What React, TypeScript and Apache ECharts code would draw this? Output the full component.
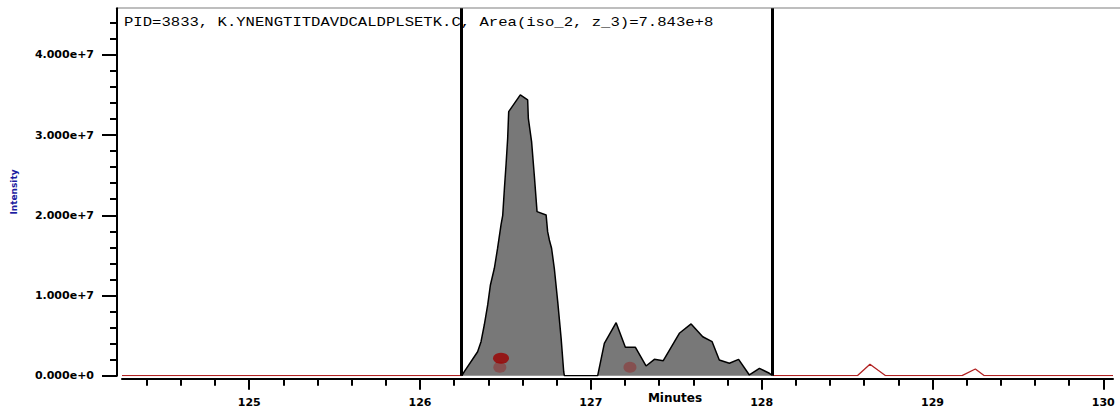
import React, { useEffect, useRef } from "react";
import * as echarts from "echarts";

// ---- axis ranges & ticks ----
const xMin = 124.255;
const xMax = 130.057;
const yMin = 0;
const yMax = 4.58e7;

const xMajorTicks = [125, 126, 127, 128, 129, 130];
const xTickLabels = ["125", "126", "127", "128", "129", "130"];
const xMinorTicks = [
  124.4, 124.6, 124.8, 125.2, 125.4, 125.6, 125.8, 126.2, 126.4, 126.6, 126.8,
  127.2, 127.4, 127.6, 127.8, 128.2, 128.4, 128.6, 128.8, 129.2, 129.4, 129.6, 129.8,
];
const yMajorTicks = [0, 1e7, 2e7, 3e7, 4e7];
const yTickLabels = ["0.000e+0", "1.000e+7", "2.000e+7", "3.000e+7", "4.000e+7"];
const yMinorTicks = [
  2e6, 4e6, 6e6, 8e6, 12e6, 14e6, 16e6, 18e6, 22e6, 24e6, 26e6, 28e6,
  32e6, 34e6, 36e6, 38e6, 42e6, 44e6,
];

// ---- integration window trace (grey area) ----
const windowTimes = [
  126.245, 126.259, 126.337, 126.357, 126.376, 126.396, 126.412, 126.435, 126.454,
  126.474, 126.484, 126.494, 126.504, 126.513, 126.519, 126.587, 126.63, 126.634,
  126.653, 126.669, 126.685, 126.738, 126.747, 126.757, 126.77, 126.786, 126.806,
  126.826, 126.841, 126.845, 127.04, 127.079, 127.148, 127.202, 127.261, 127.323,
  127.372, 127.424, 127.518, 127.587, 127.655, 127.71, 127.752, 127.811, 127.865,
  127.928, 127.987, 128.045, 128.058,
];
const windowValues = [
  0, 0.5e6, 2.99e6, 4.24e6, 6.32e6, 8.82e6, 11.31e6, 13.39e6, 15.89e6,
  18.79e6, 19.99e6, 23.37e6, 26.48e6, 29.6e6, 32.92e6, 35.0e6, 34.38e6, 32.09e6,
  29.18e6, 24.96e6, 20.45e6, 20.04e6, 17.96e6, 16.92e6, 15.89e6, 13.39e6, 9.23e6,
  4.66e6, 0.5e6, 0, 0, 4.04e6, 6.61e6, 3.54e6, 3.54e6, 1.21e6,
  2.04e6, 1.87e6, 5.29e6, 6.45e6, 4.86e6, 4.24e6, 1.96e6, 1.55e6, 2.04e6,
  0.09e6, 0.92e6, 0.3e6, 0.1e6,
];

// ---- trace outside the window (red line) ----
const beforeTimes = [124.255, 126.245];
const beforeValues = [0, 0];
const afterTimes = [128.063, 128.56, 128.634, 128.68, 128.726, 129.173, 129.251, 129.304, 130.057];
const afterValues = [0, 0, 1.43e6, 0.7e6, 0, 0, 0.84e6, 0, 0];

// ---- window boundaries ----
const boundaryTimes = [126.242, 128.063];

// ---- identification markers ----
const markerTimes = [126.474];
const markerValues = [2.17e6];
const fadedMarkerTimes = [126.467, 127.229];
const fadedMarkerValues = [1.05e6, 1.05e6];

const titleText = "PID=3833, K.YNENGTITDAVDCALDPLSETK.C, Area(iso_2, z_3)=7.843e+8";
const xName = "Minutes";
const yName = "Intensity";

const pairs = (xs: number[], ys: number[]) => xs.map((x, i) => [x, ys[i]]);

export default function App() {
  const ref = useRef<HTMLDivElement>(null);

  useEffect(() => {
    if (!ref.current) return;
    const chart = echarts.init(ref.current, null, { renderer: "svg" });
    const labelFont = { fontFamily: "DejaVu Sans", fontSize: 11, fontWeight: "bold" as const, color: "#000" };
    const redLine = {
      type: "line",
      showSymbol: false,
      lineStyle: { color: "#b22222", width: 1.3 },
      z: 2,
    };
    chart.setOption({
      animation: false,
      backgroundColor: "#fff",
      grid: { left: 122, right: 7, top: 8.3, bottom: 38.3, containLabel: false },
      xAxis: [
        {
          type: "value",
          min: xMin,
          max: xMax,
          position: "bottom",
          offset: 3,
          axisLine: { show: true, onZero: false, lineStyle: { color: "#000", width: 2 } },
          axisTick: { show: true, customValues: xMajorTicks, length: 11, lineStyle: { color: "#000", width: 2 } },
          axisLabel: {
            show: true,
            customValues: xMajorTicks,
            margin: 18,
            ...labelFont,
            formatter: (v: number) => xTickLabels[xMajorTicks.indexOf(Math.round(v))] ?? "",
          },
          splitLine: { show: false },
        },
        {
          type: "value",
          min: xMin,
          max: xMax,
          position: "bottom",
          offset: 3,
          axisLine: { show: false, onZero: false },
          axisTick: { show: true, customValues: xMinorTicks, length: 7, lineStyle: { color: "#000", width: 2 } },
          axisLabel: { show: false },
          splitLine: { show: false },
        },
      ],
      yAxis: [
        {
          type: "value",
          min: yMin,
          max: yMax,
          position: "left",
          offset: 5,
          name: yName,
          nameLocation: "middle",
          nameGap: 99,
          nameTextStyle: { color: "#1c1ca0", fontSize: 9, fontWeight: "bold", fontFamily: "DejaVu Sans" },
          axisLine: { show: true, onZero: false, lineStyle: { color: "#000", width: 2 } },
          axisTick: { show: true, customValues: yMajorTicks, length: 15, lineStyle: { color: "#000", width: 2 } },
          axisLabel: {
            show: true,
            customValues: yMajorTicks,
            margin: 23,
            ...labelFont,
            formatter: (v: number) => {
              const i = yMajorTicks.findIndex((t) => Math.abs(t - v) < 1);
              return i >= 0 ? yTickLabels[i] : "";
            },
          },
          splitLine: { show: false },
        },
        {
          type: "value",
          min: yMin,
          max: yMax,
          position: "left",
          offset: 5,
          axisLine: { show: false, onZero: false },
          axisTick: { show: true, customValues: yMinorTicks, length: 7, lineStyle: { color: "#000", width: 2 } },
          axisLabel: { show: false },
          splitLine: { show: false },
        },
      ],
      series: [
        { ...redLine, name: "before", data: pairs(beforeTimes, beforeValues) },
        { ...redLine, name: "after", data: pairs(afterTimes, afterValues) },
        {
          type: "line",
          name: "window",
          showSymbol: false,
          data: pairs(windowTimes, windowValues),
          lineStyle: { color: "#000", width: 1.5 },
          areaStyle: { color: "#787878", opacity: 1 },
          z: 3,
          markLine: {
            silent: true,
            symbol: ["none", "none"],
            label: { show: false },
            lineStyle: { color: "#000", width: 3, type: "solid" },
            data: boundaryTimes.map((t) => ({ xAxis: t })),
          },
        },
        {
          type: "scatter",
          name: "faded",
          data: pairs(fadedMarkerTimes, fadedMarkerValues),
          symbol: "circle",
          symbolSize: [13, 11],
          itemStyle: { color: "rgba(150,30,30,0.55)" },
          z: 4,
        },
        {
          type: "scatter",
          name: "marker",
          data: pairs(markerTimes, markerValues),
          symbol: "circle",
          symbolSize: [16, 11],
          itemStyle: { color: "#9b0000" },
          z: 5,
        },
      ],
      graphic: [
        {
          type: "line",
          shape: { x1: 117, y1: 8, x2: 1120, y2: 8 },
          style: { stroke: "#a8a8a8", lineWidth: 1.5 },
          silent: true,
        },
        {
          type: "text",
          x: 124,
          y: 23,
          scaleX: 1.3,
          style: {
            text: titleText,
            font: '12px "Liberation Mono"',
            fill: "#000",
            textVerticalAlign: "middle",
          },
          z: 10,
        },
        {
          type: "text",
          x: 675,
          y: 398,
          style: {
            text: xName,
            font: 'bold 12px "DejaVu Sans"',
            fill: "#000",
            textAlign: "center",
            textVerticalAlign: "middle",
          },
        },
      ],
    });
    return () => chart.dispose();
  }, []);

  return (
    <div
      ref={ref}
      style={{ position: "absolute", left: 0, top: 0, width: 1120, height: 414, background: "#fff" }}
    />
  );
}
